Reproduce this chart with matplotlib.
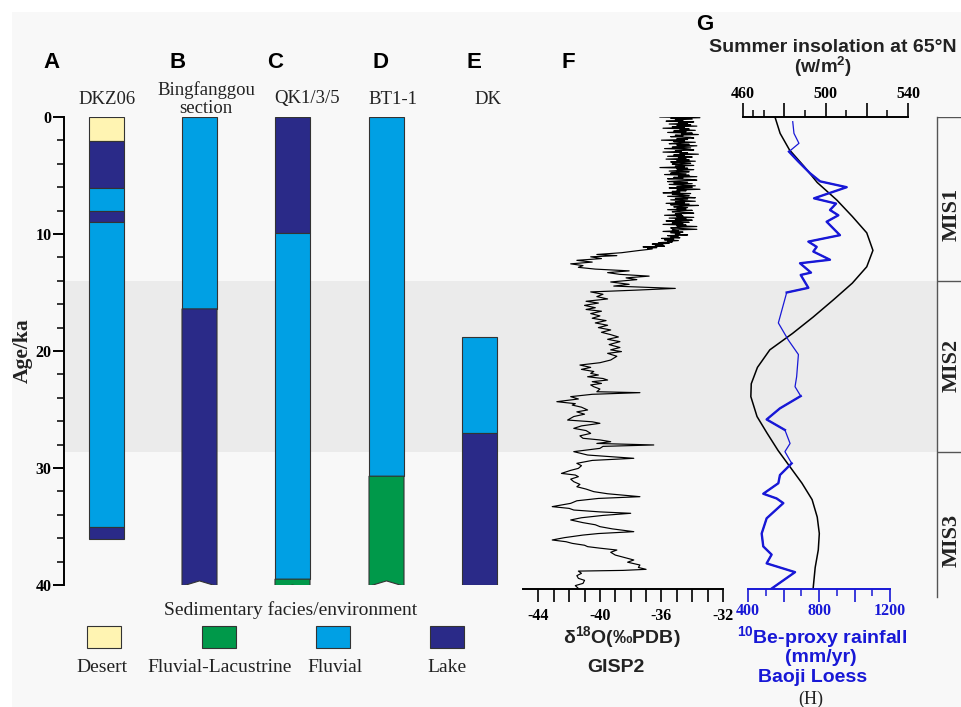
import matplotlib
matplotlib.use("Agg")
import matplotlib.pyplot as plt
from matplotlib.patches import Rectangle, Polygon
import numpy as np

plt.rcParams['mathtext.fontset'] = 'custom'
plt.rcParams['mathtext.rm'] = 'Liberation Sans:bold'
plt.rcParams['mathtext.it'] = 'Liberation Sans:bold'
plt.rcParams['mathtext.bf'] = 'Liberation Sans:bold'

SERIF = 'Liberation Serif'
SANS = 'Liberation Sans'

# ---------------- data ----------------
facies_names = ['Desert', 'Fluvial-Lacustrine', 'Fluvial', 'Lake']
facies_colors = {'Desert': '#fff4b2', 'Fluvial-Lacustrine': '#00994a',
                 'Fluvial': '#00a0e4', 'Lake': '#2a2a88'}

col_letters = ['A', 'B', 'C', 'D', 'E']
col_names = ['DKZ06', 'Bingfanggou\nsection', 'QK1/3/5', 'BT1-1', 'DK']

# facies boundaries (ka) for each section
dkz06_bounds = [0, 2.05, 6.05, 8.0, 9.0, 35.0, 36.1]
dkz06_facies = ['Desert', 'Lake', 'Fluvial', 'Lake', 'Fluvial', 'Lake']
bfg_bounds = [0, 16.4, 40.1]
bfg_facies = ['Fluvial', 'Lake']
qk_bounds = [0, 9.9, 39.5, 40.45]
qk_facies = ['Lake', 'Fluvial', 'Fluvial-Lacustrine']
bt_bounds = [0, 30.7, 40.1]
bt_facies = ['Fluvial', 'Fluvial-Lacustrine']
dk_bounds = [18.8, 27.0, 40.0]
dk_facies = ['Fluvial', 'Lake']

# MIS boundaries (ka)
mis_names = ['MIS1', 'MIS2', 'MIS3']
mis_bounds = [0, 14.0, 28.6]

# GISP2 d18O, Holocene part (dense)
f_age_holo = [0.00, 0.06, 0.12, 0.18, 0.24, 0.30, 0.36, 0.42, 0.48, 0.54,
              0.60, 0.66, 0.72, 0.78, 0.84, 0.90, 0.96, 1.02, 1.08, 1.14,
              1.20, 1.26, 1.32, 1.38, 1.44, 1.50, 1.56, 1.62, 1.68, 1.74,
              1.80, 1.86, 1.92, 1.98, 2.04, 2.10, 2.16, 2.22, 2.28, 2.34,
              2.40, 2.46, 2.52, 2.58, 2.64, 2.70, 2.76, 2.82, 2.88, 2.94,
              3.00, 3.06, 3.12, 3.18, 3.24, 3.30, 3.36, 3.42, 3.48, 3.54,
              3.60, 3.66, 3.72, 3.78, 3.84, 3.90, 3.96, 4.02, 4.08, 4.14,
              4.20, 4.26, 4.32, 4.38, 4.44, 4.50, 4.56, 4.62, 4.68, 4.74,
              4.80, 4.86, 4.92, 4.98, 5.04, 5.10, 5.16, 5.22, 5.28, 5.34,
              5.40, 5.46, 5.52, 5.58, 5.64, 5.70, 5.76, 5.82, 5.88, 5.94,
              6.00, 6.06, 6.12, 6.18, 6.24, 6.30, 6.36, 6.42, 6.48, 6.54,
              6.60, 6.66, 6.72, 6.78, 6.84, 6.90, 6.96, 7.02, 7.08, 7.14,
              7.20, 7.26, 7.32, 7.38, 7.44, 7.50, 7.56, 7.62, 7.68, 7.74,
              7.80, 7.86, 7.92, 7.98, 8.04, 8.10, 8.16, 8.22, 8.28, 8.34,
              8.40, 8.46, 8.52, 8.58, 8.64, 8.70, 8.76, 8.82, 8.88, 8.94,
              9.00, 9.06, 9.12, 9.18, 9.24, 9.30, 9.36, 9.42, 9.48, 9.54,
              9.60, 9.66, 9.72, 9.78, 9.84, 9.90, 9.96, 10.02, 10.08, 10.14,
              10.20, 10.26, 10.32, 10.38, 10.44, 10.50, 10.56, 10.62, 10.68, 10.74,
              10.80, 10.86, 10.92, 10.98, 11.04, 11.10, 11.16, 11.22, 11.28]
f_d18o_holo = [-36.1, -33.5, -35.4, -34.0, -35.1, -34.6, -35.7, -33.9, -34.9, -34.3,
               -35.5, -34.1, -35.0, -33.7, -35.3, -34.5, -35.9, -34.2, -34.8, -33.8,
               -35.2, -34.4, -35.6, -34.0, -34.7, -33.6, -35.1, -34.6, -35.4, -34.1,
               -33.9, -35.0, -34.3, -36.0, -34.5, -35.2, -33.8, -34.9, -35.5, -34.2,
               -35.0, -33.7, -34.6, -35.3, -34.1, -35.8, -34.4, -33.9, -35.1, -34.7,
               -35.9, -34.3, -34.8, -33.6, -35.2, -34.5, -35.6, -34.0, -34.9, -34.4,
               -35.7, -34.2, -35.0, -33.8, -35.4, -34.6, -34.1, -35.3, -34.8, -33.9,
               -35.1, -34.5, -36.1, -34.3, -35.0, -33.9, -34.7, -35.5, -34.2, -35.0,
               -35.4, -34.4, -35.8, -34.2, -34.9, -33.7, -35.2, -34.6, -35.6, -34.1,
               -33.7, -34.9, -35.6, -34.3, -35.2, -34.0, -35.5, -34.7, -33.8, -35.0,
               -34.0, -35.5, -34.6, -33.5, -35.0, -34.4, -35.3, -34.8, -35.9, -34.1,
               -35.3, -34.7, -34.2, -35.6, -34.5, -33.8, -35.1, -34.3, -35.4, -34.6,
               -33.8, -35.1, -34.5, -35.7, -34.2, -35.4, -33.6, -34.8, -35.2, -34.3,
               -35.0, -34.4, -35.6, -34.0, -34.9, -35.3, -34.5, -33.9, -35.1, -34.7,
               -35.8, -34.6, -35.0, -33.9, -35.5, -34.4, -35.1, -34.0, -35.7, -34.8,
               -34.2, -35.3, -34.6, -35.9, -34.4, -35.0, -33.7, -34.9, -35.4, -34.5,
               -33.7, -35.3, -34.9, -35.9, -34.6, -35.4, -34.8, -35.1, -34.3, -35.6,
               -34.9, -35.4, -34.8, -36.0, -35.2, -35.8, -34.9, -35.6, -35.3, -36.2,
               -35.5, -36.6, -35.9, -36.4, -35.8, -37.2, -36.3, -36.9, -36.6]
# GISP2 d18O, glacial part
f_age_glac = [11.4, 11.6, 11.75, 11.85, 11.95, 12.1, 12.25, 12.4, 12.55, 12.7,
              12.85, 13.0, 13.15, 13.3, 13.45, 13.6, 13.75, 13.9, 14.1, 14.3,
              14.45, 14.65, 14.8, 14.95, 15.15, 15.35, 15.55, 15.75, 15.9, 16.1,
              16.3, 16.45, 16.6, 16.8, 17.0, 17.2, 17.4, 17.6, 17.8, 18.0,
              18.2, 18.4, 18.6, 18.8, 19.0, 19.2, 19.45, 19.7, 19.9, 20.05,
              20.2, 20.45, 20.77, 21.0, 21.2, 21.4, 21.57, 21.75, 21.91, 22.05,
              22.2, 22.35, 22.48, 22.62, 22.77, 22.9, 23.05, 23.25, 23.48, 23.56,
              23.7, 23.9, 24.1, 24.33, 24.5, 24.62, 24.8, 25.04, 25.2, 25.4,
              25.6, 25.9, 26.05, 26.18, 26.4, 26.61, 26.8, 27.04, 27.25, 27.46,
              27.6, 27.75, 27.9, 28.03, 28.15, 28.32, 28.6, 28.89, 29.17, 29.35,
              29.6, 29.8, 30.03, 30.2, 30.46, 30.6, 30.74, 30.95, 31.17, 31.4,
              31.6, 31.8, 32.02, 32.2, 32.45, 32.6, 32.8, 33.02, 33.3, 33.45,
              33.59, 33.75, 33.87, 34.05, 34.25, 34.44, 34.67, 34.85, 35.01, 35.2,
              35.44, 35.6, 35.73, 35.95, 36.15, 36.3, 36.44, 36.6, 36.72, 36.85,
              37.01, 37.2, 37.44, 37.65, 37.86, 38.05, 38.29, 38.5, 38.66, 38.75,
              38.81, 39.0, 39.2, 39.43, 39.6, 39.86, 40.05, 40.29]
f_d18o_glac = [-37.4, -38.6, -40.2, -38.9, -40.6, -39.9, -41.5, -40.5, -41.9, -41.1,
               -41.4, -40.3, -38.1, -39.5, -38.7, -36.8, -38.3, -37.6, -39.3, -38.1,
               -39.1, -35.1, -37.7, -40.6, -39.8, -40.2, -39.5, -40.9, -40.1, -41.0,
               -40.3, -40.9, -39.9, -40.6, -40.0, -40.5, -39.6, -40.3, -39.5, -40.1,
               -39.3, -39.9, -39.3, -38.8, -39.5, -38.7, -39.4, -38.7, -39.3, -38.6,
               -39.5, -38.9, -39.3, -40.0, -41.3, -40.6, -41.2, -40.4, -40.6, -40.1,
               -40.8, -39.8, -39.5, -40.5, -39.9, -40.6, -40.4, -40.0, -40.2, -37.4,
               -40.5, -41.9, -41.4, -42.8, -41.6, -41.8, -41.2, -40.8, -41.5, -41.0,
               -41.7, -42.1, -40.5, -40.0, -41.2, -41.7, -40.9, -40.6, -41.3, -41.1,
               -40.0, -39.3, -40.2, -36.5, -39.8, -40.0, -41.7, -40.8, -37.8, -40.5,
               -41.5, -41.2, -41.4, -41.9, -42.5, -41.6, -41.4, -41.9, -41.7, -41.3,
               -41.5, -40.9, -40.4, -39.5, -37.4, -40.1, -41.5, -41.9, -43.1, -42.0,
               -41.7, -40.0, -38.0, -39.8, -41.2, -41.9, -41.1, -40.3, -40.0, -39.2,
               -37.8, -40.1, -41.1, -42.3, -43.1, -42.2, -41.8, -41.0, -40.8, -40.0,
               -38.9, -39.3, -39.0, -38.4, -37.8, -38.2, -37.4, -37.5, -37.0, -38.5,
               -41.4, -41.2, -41.5, -41.4, -41.0, -41.1, -41.6, -41.4]

# summer insolation 65N (W/m2)
ins_age = [0, 1.4, 2.8, 4.2, 5.6, 7.1, 8.5, 9.9, 11.4, 12.8, 14.2, 15.6, 17.1,
           18.5, 19.9, 21.4, 22.8, 23.9, 25.6, 27.0, 28.5, 29.9, 31.3, 32.7,
           34.2, 35.6, 37.0, 38.5, 40.3]
ins_val = [475.5, 478.0, 482.5, 489.5, 496.0, 505.5, 513.0, 520.0, 523.0, 520.0,
           513.0, 504.0, 494.0, 484.0, 473.0, 467.0, 464.0, 463.8, 466.8, 471.6,
           477.0, 482.8, 488.6, 493.5, 496.0, 497.0, 496.5, 495.0, 494.0]

# 10Be-proxy rainfall, Baoji loess (mm/yr)
be_age = [0.4, 1.4, 2.25, 2.96, 3.8, 4.8, 5.5, 6.0, 6.95, 7.4, 7.95, 8.4, 8.95,
          10.1, 10.65, 11.1, 11.5, 12.2, 12.5, 13.3, 13.5, 14.6, 15.0, 17.6,
          19.06, 20.3, 22.2, 23.05, 23.85, 24.9, 25.85, 26.75, 27.9, 28.6,
          29.6, 30.6, 31.3, 32.2, 32.6, 33.0, 34.3, 35.6, 36.7, 37.4, 38.15,
          38.9, 40.4]
be_rain = [652, 659, 687, 631, 683, 749, 806, 956, 772, 896, 862, 909, 843,
           918, 740, 787, 768, 862, 693, 755, 697, 740, 618, 571,
           627, 684, 674, 665, 697, 580, 505, 608, 637, 608,
           646, 580, 571, 486, 561, 599, 505, 477, 486, 533, 505,
           665, 524]

# ---------------- layout ----------------
W, H = 961, 707
BG = '#f8f8f8'
BAND = '#ebebeb'
BLUE = '#1818d6'
EDGE = '#333333'
TXT = '#222222'


def box(x0, x1, y0, y1):
    return [x0 / W, 1 - y1 / H, (x1 - x0) / W, (y1 - y0) / H]


fig = plt.figure(figsize=(W / 100, H / 100), dpi=100)
fig.patch.set_facecolor('white')
fig.add_artist(Rectangle((12 / W, 0), 1, 1 - 12 / H, transform=fig.transFigure,
                         facecolor=BG, edgecolor='none', zorder=-10))

# ----- sedimentary columns -----
ax = fig.add_axes(box(64, 937, 117, 585))
ax.set_facecolor('none')
ax.set_xlim(64, 937)
ax.set_ylim(40, 0)
for s in ['top', 'right', 'bottom']:
    ax.spines[s].set_visible(False)
ax.spines['left'].set_linewidth(1.4)
ax.set_xticks([])
ax.set_yticks([0, 10, 20, 30, 40])
ax.set_yticks(np.arange(0, 41, 2), minor=True)
ax.tick_params(axis='y', which='major', length=8, width=1.4, pad=1, labelsize=11.5)
ax.tick_params(axis='y', which='minor', length=5, width=1.1)
for lbl in ax.get_yticklabels():
    lbl.set_fontfamily(SERIF)
    lbl.set_fontweight('bold')
ax.axhspan(mis_bounds[1], mis_bounds[2], color=BAND, zorder=0, lw=0)

col_left = [89, 182, 275, 369, 462]
col_w = 35
notched = [False, True, True, True, False]
notch = 0.45
sections = [(dkz06_bounds, dkz06_facies), (bfg_bounds, bfg_facies),
            (qk_bounds, qk_facies), (bt_bounds, bt_facies), (dk_bounds, dk_facies)]

for x0, nt, (bounds, facies) in zip(col_left, notched, sections):
    for i, fac in enumerate(facies):
        top, bot = bounds[i], bounds[i + 1]
        last = i == len(facies) - 1
        if nt and last:
            poly = Polygon([(x0, top), (x0 + col_w, top), (x0 + col_w, bot),
                            (x0 + col_w / 2, bot - notch), (x0, bot)],
                           closed=True, facecolor=facies_colors[fac],
                           edgecolor=EDGE, lw=0.8, zorder=2)
            ax.add_patch(poly)
        else:
            ax.bar(x0, bot - top, bottom=top, width=col_w, align='edge',
                   color=facies_colors[fac], edgecolor=EDGE, lw=0.8, zorder=2)

# ----- F: GISP2 -----
axf = fig.add_axes(box(523, 723, 117, 589))
axf.set_facecolor('none')
axf.set_xlim(-45, -32)
axf.set_ylim(40.34, 0)
for s in ['top', 'right', 'left']:
    axf.spines[s].set_visible(False)
axf.spines['bottom'].set_linewidth(1.4)
axf.set_yticks([])
fticks = list(range(-44, -31))
axf.set_xticks(fticks, labels=[str(t) if t % 4 == 0 else '' for t in fticks])
axf.tick_params(axis='x', length=9, width=1.2, pad=5, labelsize=11.5)
for lbl in axf.get_xticklabels():
    lbl.set_fontfamily(SERIF)
    lbl.set_fontweight('bold')
axf.plot(f_d18o_holo + f_d18o_glac, f_age_holo + f_age_glac,
         color='black', lw=0.85, zorder=3)

# ----- G: insolation -----
axg = fig.add_axes(box(743, 908, 117, 589))
axg.set_facecolor('none')
axg.set_xlim(460, 540)
axg.set_ylim(40.34, 0)
for s in ['bottom', 'right', 'left']:
    axg.spines[s].set_visible(False)
axg.spines['top'].set_linewidth(1.4)
axg.set_yticks([])
axg.xaxis.tick_top()
axg.set_xticks([460, 480, 500, 520, 540], labels=['460', '', '500', '', '540'])
axg.set_xticks([465, 470, 490, 510, 530], minor=True)
axg.tick_params(axis='x', which='major', length=10, width=1.2, pad=1, labelsize=11.5)
axg.tick_params(axis='x', which='minor', length=5, width=1.1)
for lbl in axg.get_xticklabels():
    lbl.set_fontfamily(SERIF)
    lbl.set_fontweight('bold')
axg.plot(ins_val, ins_age, color='black', lw=1.1, zorder=3)

# ----- H: 10Be rainfall -----
axh = fig.add_axes(box(748, 890, 117, 589))
axh.set_facecolor('none')
axh.set_xlim(400, 1200)
axh.set_ylim(40.34, 0)
for s in ['top', 'right', 'left']:
    axh.spines[s].set_visible(False)
axh.spines['bottom'].set_color(BLUE)
axh.spines['bottom'].set_linewidth(1.4)
axh.set_yticks([])
axh.set_xticks([400, 600, 800, 1000, 1200], labels=['400', '', '800', '', '1200'])
axh.set_xticks([500, 700, 900, 1100], minor=True)
axh.tick_params(axis='x', which='major', length=9, width=1.2, pad=1, labelsize=11.5,
                color=BLUE, labelcolor=BLUE)
axh.tick_params(axis='x', which='minor', length=5, width=1.1, color=BLUE)
for lbl in axh.get_xticklabels():
    lbl.set_fontfamily(SERIF)
    lbl.set_fontweight('bold')
be_age_a = np.array(be_age)
be_rain_a = np.array(be_rain)
axh.plot(be_rain_a, be_age_a, color=BLUE, lw=0.9, zorder=3)
for lo, hi in [(2.9, 15.0), (23.8, 26.8), (29.6, 40.4)]:
    m = (be_age_a >= lo) & (be_age_a <= hi)
    axh.plot(be_rain_a[m], be_age_a[m], color=BLUE, lw=1.7, zorder=3)

# ----- MIS column -----
axm = fig.add_axes(box(937, 961, 117, 585))
axm.set_facecolor('none')
axm.set_xlim(0, 1)
axm.set_ylim(40, 0)
axm.axis('off')
axm.plot([0, 0], [0, 41.0], color='#555555', lw=1.0, clip_on=False)
axm.hlines(mis_bounds, 0, 1, color='#555555', lw=1.0)
for name, yc in zip(mis_names, [8.3, 21.2, 36.2]):
    axm.text(0.6, yc, name, rotation=90, ha='center', va='center',
             fontfamily=SERIF, fontweight='bold', fontsize=16, color=TXT,
             clip_on=False)

# ----- text overlay -----
lay = fig.add_axes([0, 0, 1, 1])
lay.set_xlim(0, W)
lay.set_ylim(H, 0)
lay.axis('off')
lay.set_facecolor('none')

for letter, x in zip(col_letters + ['F'], [51, 178, 275, 381, 474, 568]):
    lay.text(x, 62, letter, fontfamily=SANS, fontweight='bold', fontsize=16,
             ha='center', va='center', color='black')
lay.text(705, 24, 'G', fontfamily=SANS, fontweight='bold', fontsize=16,
         ha='center', va='center', color='black')

for name, x in zip(col_names, [107, 206, 307, 393, 488]):
    lay.text(x, 99, name, fontfamily=SERIF, fontsize=13.5, ha='center', va='center',
             color=TXT, linespacing=1.05)

lay.text(23, 351, 'Age/ka', fontfamily=SERIF, fontweight='bold', fontsize=15.5,
         rotation=90, ha='center', va='center', color=TXT)

lay.text(833, 47, 'Summer insolation at 65°N', fontfamily=SANS, fontweight='bold',
         fontsize=14, ha='center', va='center', color=TXT)
lay.text(823, 67, '(w/m$^2$)', fontfamily=SANS, fontweight='bold',
         fontsize=13.5, ha='center', va='center', color=TXT)

lay.text(622, 637, 'δ$^{18}$O(‰PDB)', fontfamily=SANS, fontweight='bold',
         fontsize=14, ha='center', va='center', color=TXT)
lay.text(616, 667, 'GISP2', fontfamily=SANS, fontweight='bold',
         fontsize=14, ha='center', va='center', color=TXT)

lay.text(822, 637, '$^{10}$Be-proxy rainfall', fontfamily=SANS, fontweight='bold',
         fontsize=14, ha='center', va='center', color=BLUE)
lay.text(821, 657, '(mm/yr)', fontfamily=SANS, fontweight='bold',
         fontsize=14, ha='center', va='center', color=BLUE)
lay.text(813, 678, 'Baoji Loess', fontfamily=SANS, fontweight='bold',
         fontsize=14, ha='center', va='center', color=BLUE)
lay.text(811, 699, '(H)', fontfamily=SERIF, fontsize=13, ha='center', va='center',
         color=TXT)

# legend
lay.text(291, 610, 'Sedimentary facies/environment', fontfamily=SERIF, fontsize=14,
         ha='center', va='center', color=TXT)
for name, xs, xt in zip(facies_names, [87, 202, 316, 430], [102, 220, 335, 447]):
    lay.add_patch(Rectangle((xs, 626), 34, 22, facecolor=facies_colors[name],
                            edgecolor=EDGE, lw=0.8))
    lay.text(xt, 668, name, fontfamily=SERIF, fontsize=14, ha='center',
             va='center', color=TXT)

fig.savefig('out.png', dpi=100, facecolor=fig.get_facecolor())
